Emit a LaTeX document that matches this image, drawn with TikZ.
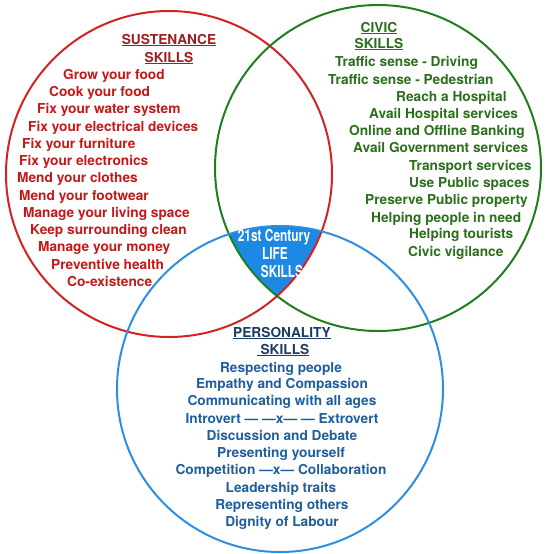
\documentclass[tikz,border=0pt]{standalone}
\usepackage{fontspec}
\setmainfont{TeX Gyre Heros}
\usepackage{xcolor}
\definecolor{colorSust}{HTML}{D42222}
\definecolor{colorSustText}{HTML}{C41818}
\definecolor{colorSustHead}{HTML}{9E1F1F}
\definecolor{colorCivic}{HTML}{1F7F1F}
\definecolor{colorCivicText}{HTML}{2B6E1C}
\definecolor{colorPers}{HTML}{2E8EE2}
\definecolor{colorPersText}{HTML}{1F5E9C}
\definecolor{colorPersHead}{HTML}{1D3C63}
\definecolor{colorCore}{HTML}{1E88E5}
\usepackage{tikz}
\tikzset{
  skillfont/.style={font=\fontsize{13.7}{16}\selectfont\bfseries, inner sep=0pt},
  sustItem/.style={skillfont, text=colorSustText, anchor=base west},
  sustHead/.style={skillfont, text=colorSustHead, anchor=base},
  civicItem/.style={skillfont, text=colorCivicText, anchor=base west},
  civicHead/.style={skillfont, text=colorCivicText, anchor=base},
  persItem/.style={skillfont, text=colorPersText, anchor=base},
  persHead/.style={skillfont, text=colorPersHead, anchor=base},
  coreText/.style={font=\fontsize{16.5}{18}\selectfont\bfseries, text=white, inner sep=0pt, anchor=base, xscale=0.72},
  ring/.style={draw, circle, line width=2pt, minimum size=326pt, inner sep=0pt}
}

\begin{document}
\begin{tikzpicture}[x=1pt, y=-1pt]
\useasboundingbox (0,0) rectangle (547,554);
% shared core of the three circles
\begin{scope}
\clip (169,174) circle[radius=163pt];
\clip (378,168) circle[radius=163pt];
\fill[colorCore] (280,389) circle[radius=163pt];
\end{scope}
\node[ring, colorSust] (sust) at (169,174) {};
\node[ring, colorCivic] (civic) at (378,168) {};
\node[ring, colorPers] (pers) at (280,389) {};

% sustenance
\node[sustHead] (sh1) at (169,44) {\underline{SUSTENANCE}};
\node[sustHead] (sh2) at (169,62) {\underline{SKILLS}};
\node[sustItem] (s1) at (63,79) {Grow your food};
\node[sustItem] (s2) at (49,96) {Cook your food};
\node[sustItem] (s3) at (37,113) {Fix your water system};
\node[sustItem] (s4) at (28,131) {Fix your electrical devices};
\node[sustItem] (s5) at (22,148) {Fix your furniture};
\node[sustItem] (s6) at (19,165) {Fix your electronics};
\node[sustItem] (s7) at (17,182) {Mend your clothes};
\node[sustItem] (s8) at (19,200) {Mend your footwear};
\node[sustItem] (s9) at (23,217) {Manage your living space};
\node[sustItem] (s10) at (30,234) {Keep surrounding clean};
\node[sustItem] (s11) at (38,251) {Manage your money};
\node[sustItem] (s12) at (51,269) {Preventive health};
\node[sustItem] (s13) at (67,286) {Co-existence};

% civic
\node[civicHead] (ch1) at (379,32) {\underline{CIVIC}};
\node[civicHead] (ch2) at (379,48) {\underline{SKILLS}};
\node[civicItem] (c1) at (335,66) {Traffic sense - Driving};
\node[civicItem] (c2) at (328,84) {Traffic sense - Pedestrian};
\node[civicItem] (c3) at (396,101) {Reach a Hospital};
\node[civicItem] (c4) at (369,118) {Avail Hospital services};
\node[civicItem] (c5) at (349,135) {Online and Offline Banking};
\node[civicItem] (c6) at (353,152) {Avail Government services};
\node[civicItem] (c7) at (409,170) {Transport services};
\node[civicItem] (c8) at (409,187) {Use Public spaces};
\node[civicItem] (c9) at (365,204) {Preserve Public property};
\node[civicItem] (c10) at (371,222) {Helping people in need};
\node[civicItem] (c11) at (409,238) {Helping tourists};
\node[civicItem] (c12) at (408,256) {Civic vigilance};

% core
\node[coreText] (k1) at (274,241) {21st Century};
\node[coreText] (k2) at (275,259) {LIFE};
\node[coreText] (k3) at (282,277) {SKILLS};

% personality
\node[persHead] (ph1) at (282,337) {\underline{PERSONALITY}};
\node[persHead] (ph2) at (283,354) {\underline{\ SKILLS}};
\node[persItem] (p1) at (281,372) {Respecting people};
\node[persItem] (p2) at (282,388) {Empathy and Compassion};
\node[persItem] (p3) at (282,405) {Communicating with all ages};
\node[persItem] (p4) at (282,423) {Introvert — —x— — Extrovert};
\node[persItem] (p5) at (282,440) {Discussion and Debate};
\node[persItem] (p6) at (281,457) {Presenting yourself};
\node[persItem] (p7) at (281,474) {Competition —x— Collaboration};
\node[persItem] (p8) at (281,492) {Leadership traits};
\node[persItem] (p9) at (282,509) {Representing others};
\node[persItem] (p10) at (282,526) {Dignity of Labour};
\end{tikzpicture}
\end{document}
